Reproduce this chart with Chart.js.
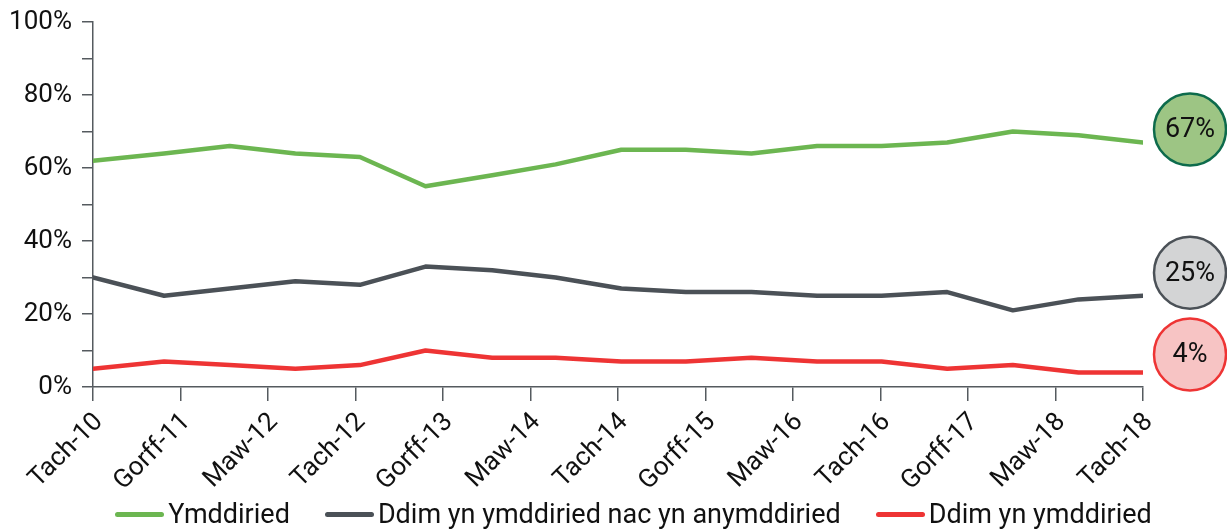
<!DOCTYPE html>
<html>
<head>
<meta charset="utf-8">
<script src="https://cdn.jsdelivr.net/npm/chart.js@4/dist/chart.umd.min.js"></script>
<style>
  html, body { margin: 0; padding: 0; background: #fff; }
  #wrap { position: relative; width: 1227px; height: 531px; }
  #legend {
    position: absolute; left: 0; right: 0; top: 498px;
    display: flex; justify-content: center; gap: 35px;
    padding-left: 40px;
    font: 27px Roboto, "Liberation Sans", sans-serif; color: #111;
  }
  .item { display: flex; align-items: center; gap: 4px; white-space: nowrap; }
  .swatch { width: 49px; height: 5px; border-radius: 3px; }
</style>
</head>
<body>
<div id="wrap">
  <canvas id="trust"></canvas>
  <div id="legend"></div>
</div>
<script>
// ===============================
// Data
// ===============================
// survey waves, in months counted from Tach-10
const surveyMonths = [0, 6.5, 12.5, 18.5, 24.4, 30.4, 36.5, 42.3, 48.3, 54.2, 60.2, 66.2, 72.1, 78.1, 84.1, 90.1, 96];

const tickLabels = ["Tach-10", "Gorff-11", "Maw-12", "Tach-12", "Gorff-13", "Maw-14", "Tach-14",
                    "Gorff-15", "Maw-16", "Tach-16", "Gorff-17", "Maw-18", "Tach-18"];

const seriesNames = ["Ymddiried", "Ddim yn ymddiried nac yn anymddiried", "Ddim yn ymddiried"];

const trust    = [62, 64, 66, 64, 63, 55, 58, 61, 65, 65, 64, 66, 66, 67, 70, 69, 67];
const neutral  = [30, 25, 27, 29, 28, 33, 32, 30, 27, 26, 26, 25, 25, 26, 21, 24, 25];
const distrust = [5, 7, 6, 5, 6, 10, 8, 8, 7, 7, 8, 7, 7, 5, 6, 4, 4];

// ===============================
// Styles
// ===============================
const FONT = "Roboto, 'Liberation Sans', sans-serif";
const AXIS = "#555a5f";

const lineStyles = [
  { color: "#6cb651", badgeFill: "#9dc584", badgeEdge: "#0d6b4c", lift: -13 },
  { color: "#4b5157", badgeFill: "#d3d4d5", badgeEdge: "#4b5157", lift: -23 },
  { color: "#ee3434", badgeFill: "#f7c4c4", badgeEdge: "#ee3434", lift: -18 }
];

const toPoints = vals => vals.map((v, i) => ({ x: surveyMonths[i], y: v }));

const datasets = [trust, neutral, distrust].map((vals, i) => ({
  label: seriesNames[i],
  data: toPoints(vals),
  borderColor: lineStyles[i].color,
  backgroundColor: lineStyles[i].color,
  borderWidth: 4.5,
  pointRadius: 0,
  tension: 0,
  borderCapStyle: "round",
  borderJoinStyle: "round"
}));

// ===============================
// End-of-line value badges
// ===============================
const badgePlugin = {
  id: "badges",
  afterDatasetsDraw(chart) {
    const { ctx, chartArea, scales } = chart;
    chart.data.datasets.forEach((ds, i) => {
      const st = lineStyles[i];
      const last = ds.data[ds.data.length - 1].y;
      const cx = chartArea.right + 47;
      const cy = scales.y.getPixelForValue(last) + st.lift;

      ctx.save();
      ctx.beginPath();
      ctx.arc(cx, cy, 36, 0, Math.PI * 2);
      ctx.fillStyle = st.badgeFill;
      ctx.fill();
      ctx.lineWidth = 2.5;
      ctx.strokeStyle = st.badgeEdge;
      ctx.stroke();

      ctx.fillStyle = "#111";
      ctx.font = "27px " + FONT;
      ctx.textAlign = "center";
      ctx.textBaseline = "middle";
      ctx.fillText(last + "%", cx, cy + 1);
      ctx.restore();
    });
  }
};

// ===============================
// Chart
// ===============================
new Chart(document.getElementById("trust"), {
  type: "line",
  data: { datasets },
  plugins: [badgePlugin],
  options: {
    responsive: true,
    maintainAspectRatio: false,
    animation: false,
    layout: { padding: { top: 22, right: 84, left: 0, bottom: 0 } },
    plugins: {
      tooltip: { enabled: false },
      legend: { display: false }
    },
    scales: {
      x: {
        type: "linear",
        min: 0,
        max: 96,
        afterFit(scale) { scale.height = 144; },
        border: { color: AXIS, width: 1.5 },
        grid: {
          drawOnChartArea: false,
          color: AXIS,
          lineWidth: 1.5,
          tickLength: 14
        },
        ticks: {
          stepSize: 8,
          autoSkip: false,
          minRotation: 45,
          maxRotation: 45,
          padding: 6,
          labelOffset: 6,
          color: "#111",
          font: { family: FONT, size: 26 },
          callback: v => tickLabels[v / 8] ?? ""
        }
      },
      y: {
        min: 0,
        max: 100,
        afterFit(scale) {
          scale.width = 93;
          // keep the plot top on the layout padding
          scale.paddingTop = 0;
          scale.paddingBottom = 0;
        },
        border: { color: AXIS, width: 1.5 },
        grid: {
          drawOnChartArea: false,
          color: AXIS,
          lineWidth: 1.5,
          tickLength: 11
        },
        ticks: {
          stepSize: 10,
          padding: 10,
          color: "#111",
          font: { family: FONT, size: 26 },
          callback: v => (v % 20 === 0 ? v + "%" : "")
        }
      }
    }
  }
});

// ===============================
// Legend (HTML, below the plot)
// ===============================
const legend = document.getElementById("legend");
seriesNames.forEach((name, i) => {
  const item = document.createElement("div");
  item.className = "item";
  item.innerHTML = `<span class="swatch" style="background:${lineStyles[i].color}"></span><span>${name}</span>`;
  legend.appendChild(item);
});
</script>
</body>
</html>
